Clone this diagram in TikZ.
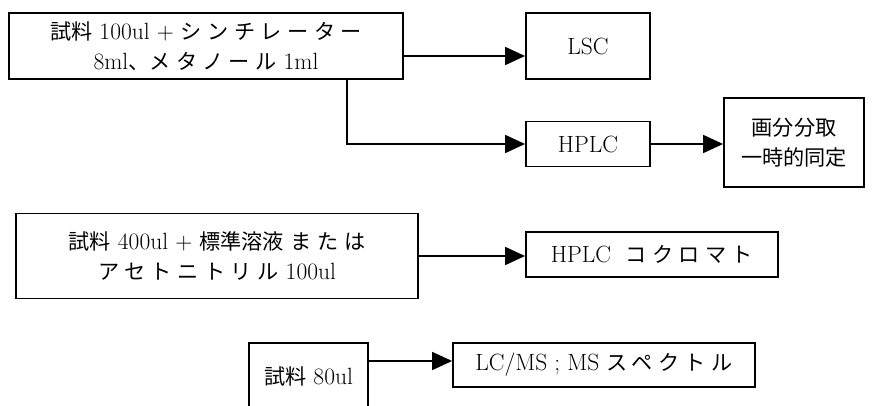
\documentclass[tikz,border=0pt]{standalone}
\usepackage{fontspec}
\usetikzlibrary{arrows.meta,calc}
\newfontfamily\jpfont[Scale=0.9]{Noto Sans CJK JP}
\newfontfamily\jpwide[Scale=0.9,LetterSpace=26]{Noto Sans CJK JP}
\newcommand\Jp[1]{{\jpfont #1}}
\newcommand\Kw[1]{{\jpwide #1}}
\begin{document}
\begin{tikzpicture}[x=1pt,y=-1pt,
  box/.style={draw, line width=1.8pt, inner sep=0pt, align=center,
    font=\fontsize{23.5}{30}\selectfont},
  arr/.style={line width=1.8pt, -{Triangle[length=20pt,width=18pt]}}]
\useasboundingbox (0,0) rectangle (881,406);
\clip (0,0) rectangle (881,406);
% row 1
\node[box, minimum width=394pt, minimum height=66pt] (b1) at (206,46)
  {\Jp{試料} 100ul + \Kw{シンチレーター}\\ 8ml\Jp{、}\Kw{メタノール} 1ml};
\node[box, minimum width=124pt, minimum height=66pt] (lsc) at (588,46) {LSC};
\node[box, minimum width=124pt, minimum height=45pt] (hplc) at (588,144) {HPLC};
\node[box, minimum width=140pt, minimum height=89pt] (frac) at (794,142.5)
  {\Jp{画分分取}\\ \Jp{一時的同定}};
% row 2
\node[box, minimum width=402pt, minimum height=85pt] (b3) at (217,256)
  {\Jp{試料} 400ul + \Jp{標準溶液} \Kw{または}\\ \Kw{アセトニトリル} 100ul};
\node[box, minimum width=252pt, minimum height=45pt] (hplcc) at (652,254.5)
  {HPLC\ \ \Kw{コクロマト}};
% row 3
\node[box, minimum width=119pt, minimum height=66pt] (b4) at (308.5,376)
  {\Jp{試料} 80ul};
\node[box, minimum width=302pt, minimum height=44pt] (lcms) at (604,365)
  {LC/MS ; MS \Kw{スペクトル}};
% connectors
\draw[arr] ([yshift=-10pt]b1.east) -- ([yshift=-10pt]lsc.west);
\draw[arr] ([xshift=141pt]b1.south) |- (hplc.west);
\draw[arr] (hplc.east) -- (frac.west |- hplc.east);
\draw[arr] (b3.east) -- (hplcc.west |- b3.east);
\coordinate (m4) at ($(lcms.west)+(0,-4)$);
\draw[arr] (b4.east |- m4) -- (m4);
\end{tikzpicture}
\end{document}
